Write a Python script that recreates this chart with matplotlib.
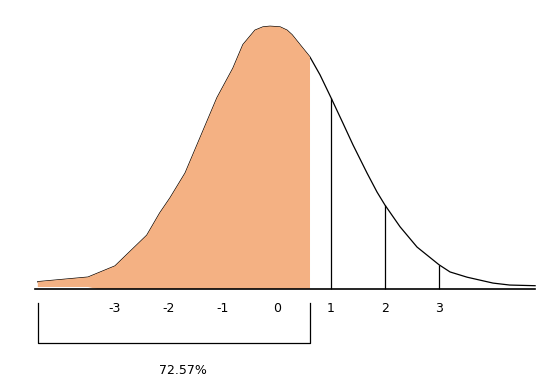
import matplotlib
matplotlib.use('Agg')
import matplotlib.pyplot as plt

# curve points (z, height)
z_curve = [-4.43, -3.5, -3.0, -2.41, -2.17, -1.98, -1.70, -1.11, -0.815, -0.63, -0.407,
           -0.259, -0.13, 0.056, 0.185, 0.278, 0.463, 0.611, 0.796, 1.0, 1.222, 1.407,
           1.667, 1.852, 2.0, 2.278, 2.593, 3.0, 3.204, 3.52, 4.0, 4.31, 4.78]
density = [0.011, 0.018, 0.035, 0.082, 0.116, 0.139, 0.177, 0.292, 0.337, 0.373, 0.395,
           0.400, 0.401, 0.400, 0.395, 0.388, 0.369, 0.354, 0.327, 0.292, 0.253, 0.220,
           0.177, 0.148, 0.128, 0.095, 0.064, 0.037, 0.026, 0.018, 0.009, 0.006, 0.005]

z_cut = 0.611
# bottom edge of the shaded area (it does not quite sit on the axis at the far left)
fill_bottom_z = [0.611, -3.33, -3.5, -4.43]
fill_bottom_y = [0.0, 0.0, 0.003, 0.003]

tick_values = [-3, -2, -1, 0, 1, 2, 3]
tick_labels = ['-3', '-2', '-1', '0', '1', '2', '3']
line_ticks = [1, 2, 3]
pct_label = '72.57%'

fig = plt.figure(figsize=(5.36, 3.85), dpi=100)
ax = fig.add_axes([0, 0, 1, 1])
ax.set_xlim(-5.13, 4.796)
ax.set_ylim(-0.1466, 0.4412)
ax.axis('off')

# curve and vertical lines
ax.plot(z_curve, density, color='black', lw=0.9, zorder=2)
heights = dict(zip(z_curve, density))
ax.vlines(line_ticks, 0, [heights[t] for t in line_ticks], color='black', lw=0.9, zorder=2)

# shaded area
fx = [z for z in z_curve if z <= z_cut] + fill_bottom_z
fy = [d for z, d in zip(z_curve, density) if z <= z_cut] + fill_bottom_y
ax.fill(fx, fy, color='#F4B183', lw=0, zorder=3)

# baseline
ax.plot([-4.48, 4.78], [0, 0], color='black', lw=1.2, zorder=4)

for t, lab in zip(tick_values, tick_labels):
    ax.text(t, -0.0305, lab, ha='center', va='center', fontsize=9, color='black')

# bracket under the shaded part
ax.plot([z_curve[0], z_curve[0], z_cut, z_cut], [-0.0214, -0.0824, -0.0824, -0.0214],
        color='black', lw=0.9)
ax.text(-1.74, -0.1237, pct_label, ha='center', va='center', fontsize=9, color='black')

fig.savefig('out.png', dpi=100)
